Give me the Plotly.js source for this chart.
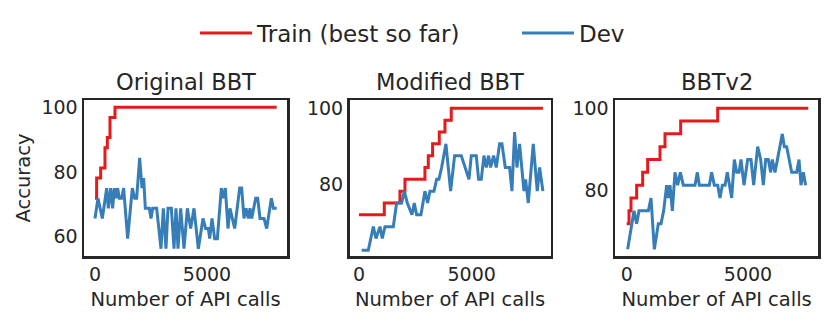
<!DOCTYPE html>
<html>
<head>
<meta charset="utf-8">
<script src="https://cdn.plot.ly/plotly-3.0.1.min.js"></script>
<style>
  html, body { margin: 0; padding: 0; background: #fff; }
  #chart { width: 831px; height: 323px; }
</style>
</head>
<body>
<div id="chart"></div>
<script>
// Panel titles
const panelTitles = ['Original BBT', 'Modified BBT', 'BBTv2'];

// Original BBT
const trainX1 = [0, 74, 253, 446, 551, 670, 893, 8110];
const trainY1 = [71.875, 78.125, 81.25, 87.5, 90.625, 96.875, 100, 100];
const devX1 = [0, 134, 327, 521, 595, 699, 789, 863, 937, 1012,
  1086, 1190, 1280, 1458, 1667, 1771, 1860, 1994, 2098, 2172,
  2247, 2426, 2500, 2574, 2753, 2946, 3050, 3169, 3259, 3408,
  3527, 3616, 3705, 3824, 3973, 4122, 4271, 4419, 4613, 4821,
  4940, 5059, 5119, 5223, 5342, 5461, 5640, 5729, 5818, 5937,
  6026, 6131, 6235, 6458, 6547, 6651, 6741, 6845, 6919, 6994,
  7098, 7172, 7262, 7366, 7544, 7663, 7872, 7961, 8110];
const devY1 = [65.625, 71.875, 65.625, 75, 68.75, 75, 68.75, 75, 71.875, 75,
  71.875, 71.875, 75, 59.375, 75, 71.875, 71.875, 84.375, 75, 78.125,
  68.75, 68.75, 65.625, 68.75, 68.75, 56.25, 68.75, 56.25, 68.75, 68.75,
  56.25, 68.75, 56.25, 68.75, 56.25, 68.75, 62.5, 68.75, 56.25, 65.625,
  62.5, 62.5, 59.375, 65.625, 59.375, 59.375, 75, 71.875, 75, 62.5,
  68.75, 65.625, 62.5, 75, 75, 65.625, 68.75, 65.625, 68.75, 65.625,
  68.75, 71.875, 71.875, 65.625, 65.625, 62.5, 71.875, 68.75, 68.75];

// Modified BBT
const trainX2 = [0, 1124, 1819, 2041, 2928, 3076, 3268, 3564, 3816, 4096, 8164];
const trainY2 = [71.875, 75, 78.125, 81.25, 84.375, 87.5, 90.625, 93.75, 96.875, 100, 100];
const devX2 = [118, 414, 636, 754, 932, 1035, 1154, 1523, 1671, 1893,
  2011, 2145, 2352, 2455, 2559, 2751, 2928, 3047, 3150, 3328,
  3446, 3550, 3668, 3860, 4067, 4245, 4541, 4881, 4984, 5206,
  5310, 5428, 5546, 5650, 5753, 5842, 5975, 6094, 6241, 6345,
  6493, 6685, 6789, 6907, 7011, 7129, 7321, 7395, 7513, 7735,
  7913, 8016, 8164];
const devY2 = [62.5, 62.5, 68.75, 65.625, 68.75, 65.625, 68.75, 68.75, 75, 75,
  78.125, 75, 71.875, 75, 71.875, 71.875, 78.125, 75, 78.125, 78.125,
  81.25, 81.25, 84.375, 90.625, 78.125, 87.5, 87.5, 81.25, 87.5, 87.5,
  81.25, 81.25, 87.5, 84.375, 87.5, 84.375, 87.5, 84.375, 90.625, 90.625,
  84.375, 84.375, 78.125, 93.75, 84.375, 90.625, 78.125, 81.25, 75, 90.625,
  78.125, 84.375, 78.125];

// BBTv2
const trainX3 = [0, 95, 177, 411, 658, 864, 1373, 1579, 2225, 3751, 7486];
const trainY3 = [71.875, 75, 78.125, 81.25, 84.375, 87.5, 90.625, 93.75, 96.875, 100, 100];
const devX3 = [40, 301, 411, 507, 892, 1002, 1139, 1304, 1414, 1524,
  1647, 1716, 1785, 1881, 1991, 2101, 2211, 2334, 2815, 2912,
  2994, 3406, 3502, 3612, 3750, 3846, 3942, 4052, 4148, 4327,
  4437, 4533, 4629, 4712, 4835, 4987, 5124, 5234, 5399, 5522,
  5632, 5728, 5838, 5935, 6003, 6113, 6415, 6498, 6594, 6800,
  7006, 7102, 7185, 7281, 7377];
const devY3 = [65.625, 75, 71.875, 75, 75, 78.125, 65.625, 71.875, 71.875, 75,
  81.25, 78.125, 81.25, 75, 84.375, 81.25, 84.375, 81.25, 81.25, 84.375,
  81.25, 81.25, 84.375, 81.25, 81.25, 78.125, 81.25, 81.25, 84.375, 78.125,
  87.5, 84.375, 84.375, 87.5, 81.25, 87.5, 87.5, 81.25, 90.625, 87.5,
  81.25, 87.5, 87.5, 84.375, 87.5, 84.375, 93.75, 90.625, 90.625, 84.375,
  84.375, 87.5, 81.25, 84.375, 81.25];

// Tick labels
const xTicks = [0, 5000];
const yTicks1 = [60, 80, 100];
const yTicks23 = [80, 100];

const RED = '#e41a1c';
const BLUE = '#377eb8';
const INK = '#262626';
const W = 831, H = 323;

// panel boxes in px: [left, right], shared top/bottom
const boxes = [[84, 287], [349.5, 550.5], [615, 818.3]];
const boxTop = 100, boxBottom = 256;
const xRanges = [[-490, 8570], [-420, 8500], [-482, 7898]];
const yRanges = [[54.0, 102.26], [61.0, 102.2], [64.0, 102.0]];

const trainSets = [[trainX1, trainY1], [trainX2, trainY2], [trainX3, trainY3]];
const devSets = [[devX1, devY1], [devX2, devY2], [devX3, devY3]];

const data = [];
trainSets.forEach(([x, y], i) => {
  const s = i === 0 ? '' : String(i + 1);
  data.push({
    x, y, type: 'scatter', mode: 'lines', line: { color: RED, width: 3, shape: 'hv' },
    name: 'Train (best so far)', showlegend: i === 0, legendgroup: 'train',
    xaxis: 'x' + s, yaxis: 'y' + s, hoverinfo: 'skip'
  });
});
devSets.forEach(([x, y], i) => {
  const s = i === 0 ? '' : String(i + 1);
  data.push({
    x, y, type: 'scatter', mode: 'lines', line: { color: BLUE, width: 3 },
    name: 'Dev', showlegend: i === 0, legendgroup: 'dev',
    xaxis: 'x' + s, yaxis: 'y' + s, hoverinfo: 'skip'
  });
});

const font = { family: 'DejaVu Sans', color: INK };
const layout = {
  width: W, height: H,
  // keep the panels where they are, no matter how wide the legend gets
  margin: { l: 0, r: 0, t: 0, b: 0, autoexpand: false },
  paper_bgcolor: '#fff', plot_bgcolor: '#fff',
  font: { ...font, size: 19 },
  showlegend: true,
  legend: {
    orientation: 'h', x: 195 / W, xanchor: 'left', y: 1 - 33 / H, yanchor: 'middle',
    font: { ...font, size: 23 }, bgcolor: 'rgba(0,0,0,0)',
    entrywidth: 255, entrywidthmode: 'pixels', itemwidth: 52
  },
  annotations: []
};

boxes.forEach((b, i) => {
  const s = i === 0 ? '' : String(i + 1);
  layout['xaxis' + s] = {
    domain: [b[0] / W, b[1] / W], range: xRanges[i], anchor: 'y' + s,
    tickvals: xTicks, ticktext: xTicks.map(String), ticks: '',
    showgrid: false, zeroline: false, showline: true, mirror: true,
    linecolor: INK, linewidth: 2.5, tickfont: { ...font, size: 19 },
    title: { text: 'Number of API calls', font: { ...font, size: 19.5 }, standoff: 8 }
  };
  layout['yaxis' + s] = {
    domain: [1 - boxBottom / H, 1 - boxTop / H], range: yRanges[i], anchor: 'x' + s,
    tickvals: i === 0 ? yTicks1 : yTicks23, ticks: '',
    showgrid: false, zeroline: false, showline: true, mirror: true,
    linecolor: INK, linewidth: 2.5, tickfont: { ...font, size: 19 }
  };
  layout.annotations.push({
    text: panelTitles[i], xref: 'paper', yref: 'paper',
    x: (b[0] + b[1]) / 2 / W, y: 1 - 82 / H, xanchor: 'center', yanchor: 'middle',
    showarrow: false, font: { ...font, size: 22.5 }
  });
});
layout.yaxis.title = { text: 'Accuracy', font: { ...font, size: 19.5 }, standoff: 6 };

Plotly.newPlot('chart', data, layout, { displayModeBar: false, staticPlot: true });
</script>
</body>
</html>
